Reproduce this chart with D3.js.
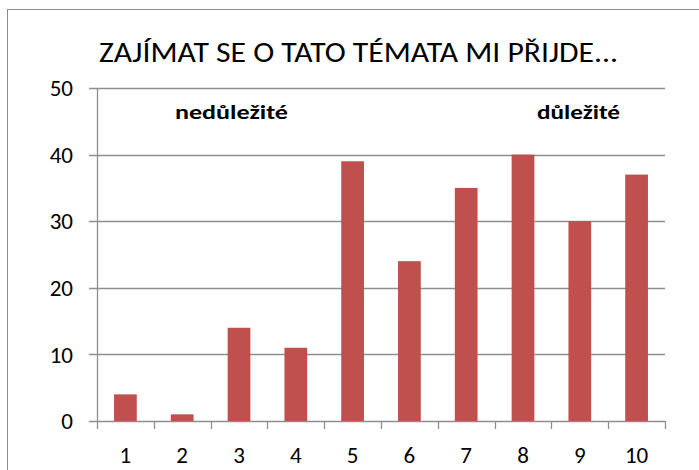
<!DOCTYPE html>
<html>
<head>
<meta charset="utf-8">
<script src="https://cdn.jsdelivr.net/npm/d3@7"></script>
<style>
  body { margin: 0; background: #fff; }
  text { font-family: Carlito, Lato, "Open Sans", sans-serif; fill: #000; }
</style>
</head>
<body>
<script>
const categories = ['1','2','3','4','5','6','7','8','9','10'];
const values = [4, 1, 14, 11, 39, 24, 35, 40, 30, 37];
const yTicks = [0, 10, 20, 30, 40, 50];
const title = 'ZAJÍMAT SE O TATO TÉMATA MI PŘIJDE...';
const leftNote = 'nedůležité';
const rightNote = 'důležité';

const W = 699, H = 470;
const margin = {top: 88, right: 34, bottom: 49, left: 97};

const svg = d3.select('body').append('svg')
  .attr('width', W)
  .attr('height', H);

// outer chart frame
svg.append('rect')
  .attr('x', 7.5).attr('y', 9.5)
  .attr('width', W + 10).attr('height', H + 10)
  .attr('fill', 'none')
  .attr('stroke', '#8c8c8c')
  .attr('stroke-width', 1);

const x = d3.scaleBand()
  .domain(categories)
  .range([margin.left, W - margin.right])
  .paddingInner(0.6)
  .paddingOuter(0.3);

const y = d3.scaleLinear()
  .domain([0, 50])
  .range([H - margin.bottom, margin.top]);

// gridlines
svg.append('g')
  .selectAll('line')
  .data(yTicks)
  .join('line')
  .attr('x1', margin.left - 8)
  .attr('x2', W - margin.right)
  .attr('y1', d => Math.round(y(d)) + 0.5)
  .attr('y2', d => Math.round(y(d)) + 0.5)
  .attr('stroke', '#8e8e8e')
  .attr('stroke-width', 1.3);

// y labels
svg.append('g')
  .selectAll('text')
  .data(yTicks)
  .join('text')
  .attr('x', 73)
  .attr('y', d => y(d))
  .attr('dy', '0.36em')
  .attr('text-anchor', 'end')
  .style('font-size', '23px')
  .text(d => d);

// y axis line
svg.append('line')
  .attr('x1', margin.left + 0.5).attr('x2', margin.left + 0.5)
  .attr('y1', y(50)).attr('y2', y(0))
  .attr('stroke', '#8e8e8e')
  .attr('stroke-width', 1.3);

// bars
svg.append('g')
  .selectAll('rect')
  .data(values)
  .join('rect')
  .attr('x', (d, i) => x(categories[i]))
  .attr('width', x.bandwidth())
  .attr('y', d => y(d))
  .attr('height', d => y(0) - y(d))
  .attr('fill', '#c0504d');

// x axis ticks between categories
const xTickPos = d3.range(categories.length + 1).map(i => margin.left + i * (W - margin.right - margin.left) / categories.length);
svg.append('g')
  .selectAll('line')
  .data(xTickPos)
  .join('line')
  .attr('x1', d => Math.round(d) + 0.5)
  .attr('x2', d => Math.round(d) + 0.5)
  .attr('y1', y(0))
  .attr('y2', y(0) + 8)
  .attr('stroke', '#8e8e8e')
  .attr('stroke-width', 1.3);

// x labels
svg.append('g')
  .selectAll('text')
  .data(categories)
  .join('text')
  .attr('x', d => x(d) + x.bandwidth() / 2)
  .attr('y', 463)
  .attr('text-anchor', 'middle')
  .style('font-size', '23px')
  .text(d => d);

// title
svg.append('text')
  .attr('x', 99)
  .attr('y', 62)
  .attr('textLength', 519)
  .attr('lengthAdjust', 'spacingAndGlyphs')
  .style('font-size', '28px')
  .text(title);

// notes
svg.append('text')
  .attr('x', 175)
  .attr('y', 119)
  .attr('textLength', 113)
  .attr('lengthAdjust', 'spacingAndGlyphs')
  .style('font-size', '20px')
  .style('font-weight', 'bold')
  .text(leftNote);

svg.append('text')
  .attr('x', 537)
  .attr('y', 119)
  .attr('textLength', 83)
  .attr('lengthAdjust', 'spacingAndGlyphs')
  .style('font-size', '20px')
  .style('font-weight', 'bold')
  .text(rightNote);
</script>
</body>
</html>
